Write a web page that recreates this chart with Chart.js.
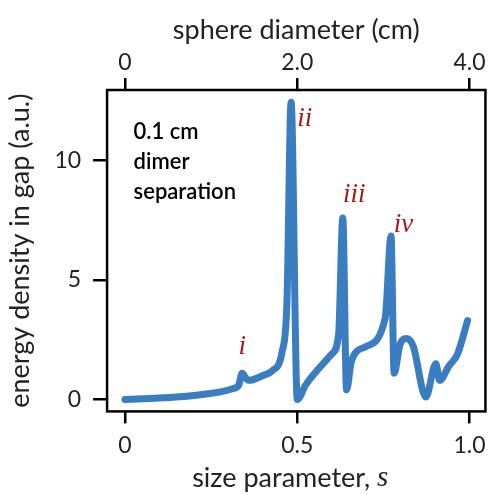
<!DOCTYPE html>
<html>
<head>
    <meta charset="utf-8" />
    <style>
        body { margin: 0; background: #fff; }
    </style>
</head>
<body>
    <canvas id="chart" width="494" height="495"></canvas>
    <script src="https://cdn.jsdelivr.net/npm/chart.js@4.4.1/dist/chart.umd.min.js"></script>
    <script>
        // size parameter s and energy density
        let sizeParam = [0, 0.1, 0.2, 0.28, 0.312, 0.33, 0.34, 0.35, 0.36, 0.4, 0.427, 0.456, 0.47, 0.482, 0.50, 0.524, 0.6, 0.62, 0.632, 0.643, 0.657, 0.697, 0.755, 0.772, 0.781, 0.798, 0.816, 0.836, 0.873, 0.902, 0.913, 0.94, 0.965, 0.994];
        let energy = [0, 0.06, 0.17, 0.33, 0.45, 0.6, 1.1, 0.9, 0.8, 1.0, 1.2, 2.0, 4.1, 12.45, 0, 0.6, 1.9, 2.75, 7.6, 0.4, 1.6, 2.2, 3.4, 6.85, 1.1, 2.3, 2.55, 2.25, 0.1, 1.5, 0.8, 1.4, 1.9, 3.3];

        let bottomTicks = [0, 0.5, 1.0];
        let bottomLabels = ['0', '0.5', '1.0'];
        let topTicks = [0, 2.0, 4.0];
        let topLabels = ['0', '2.0', '4.0'];
        let yTicks = [0, 5, 10];

        // annotation labels
        let peakNames = ['i', 'ii', 'iii', 'iv'];
        let peakS = [0.34, 0.522, 0.665, 0.808];
        let peakVal = [2.2, 11.75, 8.55, 7.3];
        let noteLines = ['0.1 cm', 'dimer', 'separation'];

        let points = sizeParam.map((s, i) => ({ x: s, y: energy[i] }));

        let fontFam = 'Lato, "Open Sans", sans-serif';
        let serifFam = '"Liberation Serif", "DejaVu Serif", serif';

        function fixTicks(values) {
            return function (scale) {
                scale.ticks = values.map(v => ({ value: v }));
            };
        }

        let framePlugin = {
            id: 'frame',
            afterDraw(chart) {
                let ctx = chart.ctx;
                let a = chart.chartArea;
                ctx.save();
                ctx.strokeStyle = '#000';
                ctx.lineWidth = 2.5;
                ctx.strokeRect(a.left, a.top, a.right - a.left, a.bottom - a.top);

                let xs = chart.scales.x;
                let ys = chart.scales.y;
                ctx.fillStyle = '#a81616';
                ctx.font = 'italic 27px ' + serifFam;
                ctx.textAlign = 'center';
                ctx.textBaseline = 'middle';
                peakNames.forEach((n, i) => {
                    ctx.fillText(n, xs.getPixelForValue(peakS[i]), ys.getPixelForValue(peakVal[i]));
                });

                ctx.fillStyle = '#000';
                ctx.font = '600 22px ' + fontFam;
                ctx.textAlign = 'left';
                let lineVals = [11.2, 9.95, 8.7];
                noteLines.forEach((t, i) => {
                    ctx.fillText(t, xs.getPixelForValue(0.025), ys.getPixelForValue(lineVals[i]));
                });

                // bottom axis title with italic serif "s"
                let part1 = 'size parameter, ';
                ctx.font = '27px ' + fontFam;
                let w1 = ctx.measureText(part1).width;
                ctx.font = 'italic 29px ' + serifFam;
                let w2 = ctx.measureText('s').width;
                let cx = (a.left + a.right) / 2 - 6;
                let x0 = cx - (w1 + w2) / 2;
                let ty = 478;
                ctx.fillStyle = '#222';
                ctx.font = '27px ' + fontFam;
                ctx.fillText(part1, x0, ty);
                ctx.font = 'italic 29px ' + serifFam;
                ctx.fillText('s', x0 + w1, ty);
                ctx.restore();
            }
        };

        let ctx = document.getElementById('chart');
        let chart = new Chart(ctx, {
            type: 'line',
            data: {
                datasets: [{
                    data: points,
                    borderColor: '#3a7dc0',
                    borderWidth: 7,
                    pointRadius: 0,
                    cubicInterpolationMode: 'monotone',
                    borderCapStyle: 'round',
                    borderJoinStyle: 'round',
                    fill: false
                }]
            },
            options: {
                responsive: false,
                animation: false,
                layout: { padding: { left: 4, right: 6, top: 14, bottom: 28 } },
                plugins: {
                    legend: { display: false },
                    tooltip: { enabled: false }
                },
                scales: {
                    x: {
                        type: 'linear',
                        position: 'bottom',
                        min: -0.052,
                        max: 1.046,
                        afterBuildTicks: fixTicks(bottomTicks),
                        ticks: {
                            color: '#222',
                            font: { size: 23, family: fontFam },
                            padding: 8,
                            maxRotation: 0,
                            callback: (v, i) => bottomLabels[i]
                        },
                        grid: { drawOnChartArea: false, drawTicks: true, tickLength: 12, color: '#000', lineWidth: 2.5 },
                        border: { display: false }
                    },
                    x2: {
                        type: 'linear',
                        position: 'top',
                        min: -0.208,
                        max: 4.184,
                        afterBuildTicks: fixTicks(topTicks),
                        ticks: {
                            color: '#222',
                            font: { size: 23, family: fontFam },
                            padding: 2,
                            maxRotation: 0,
                            callback: (v, i) => topLabels[i]
                        },
                        grid: { drawOnChartArea: false, drawTicks: true, tickLength: 12, color: '#000', lineWidth: 2.5 },
                        border: { display: false },
                        title: {
                            display: true,
                            text: 'sphere diameter (cm)',
                            color: '#222',
                            font: { size: 27, family: fontFam },
                            padding: { top: 0, bottom: 0 }
                        }
                    },
                    y: {
                        type: 'linear',
                        min: -0.5,
                        max: 12.96,
                        afterBuildTicks: fixTicks(yTicks),
                        ticks: {
                            color: '#222',
                            font: { size: 23, family: fontFam },
                            padding: 12
                        },
                        grid: { drawOnChartArea: false, drawTicks: true, tickLength: 14, color: '#000', lineWidth: 2.5 },
                        border: { display: false },
                        title: {
                            display: true,
                            text: 'energy density in gap (a.u.)',
                            color: '#222',
                            font: { size: 27, family: fontFam },
                            padding: { top: 0, bottom: 6 }
                        }
                    }
                }
            },
            plugins: [framePlugin]
        });
    </script>
</body>
</html>
